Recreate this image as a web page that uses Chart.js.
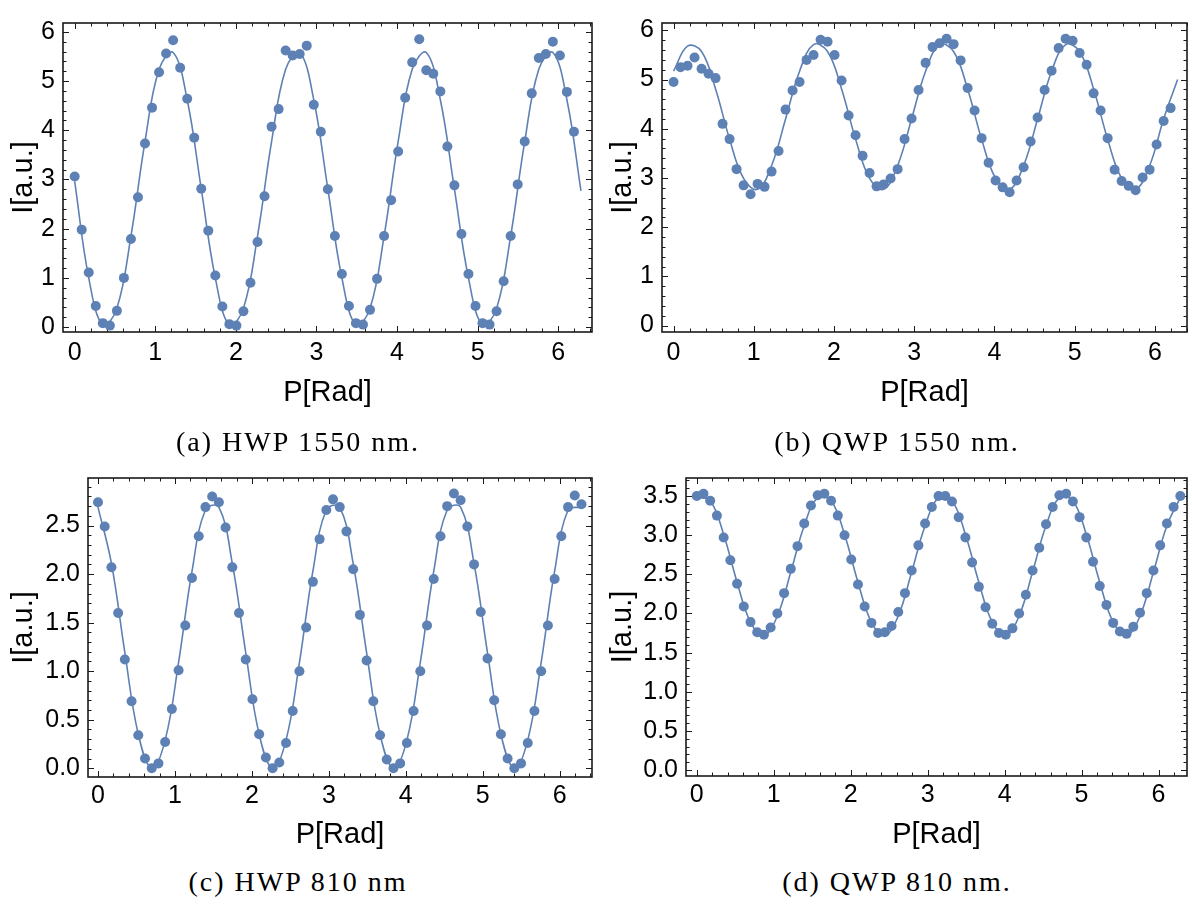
<!DOCTYPE html>
<html>
<head>
<meta charset="utf-8">
<script src="https://cdn.jsdelivr.net/npm/chart.js"></script>
<style>
  html, body { margin: 0; padding: 0; background: #fff; }
  body { width: 1192px; height: 907px; position: relative; overflow: hidden; }
  .panel { position: absolute; }
  .caption {
    position: absolute;
    font-family: "Liberation Serif", serif;
    font-size: 28px;
    line-height: 28px;
    letter-spacing: 2px;
    color: #000;
    transform: translateX(-50%);
    white-space: nowrap;
  }
</style>
</head>
<body>
<canvas class="panel" id="hwp1550" width="600" height="420" style="left:0;top:0"></canvas>
<canvas class="panel" id="qwp1550" width="592" height="420" style="left:600px;top:0"></canvas>
<canvas class="panel" id="hwp810" width="600" height="410" style="left:0;top:455px"></canvas>
<canvas class="panel" id="qwp810" width="592" height="410" style="left:600px;top:455px"></canvas>

<div class="caption" style="left:298px;top:428px">(a) HWP 1550 nm.</div>
<div class="caption" style="left:897px;top:428px">(b) QWP 1550 nm.</div>
<div class="caption" style="left:298px;top:868px">(c) HWP 810 nm</div>
<div class="caption" style="left:897px;top:868px">(d) QWP 810 nm.</div>

<script>
// polarizer angle of each measurement, degrees (5 degree steps)
const anglesDeg = [0,5,10,15,20,25,30,35,40,45,50,55,60,65,70,75,80,85,90,95,100,105,110,115,120,
  125,130,135,140,145,150,155,160,165,170,175,180,185,190,195,200,205,210,215,220,225,230,235,240,
  245,250,255,260,265,270,275,280,285,290,295,300,305,310,315,320,325,330,335,340,345,350,355,360];
const fitAnglesDeg = [0,10,20,30,40,50,60,70,80,90,100,110,120,130,140,150,160,170,180,
  190,200,210,220,230,240,250,260,270,280,290,300,310,320,330,340,350,360];

// measured intensities [a.u.]
const hwp1550 = [3.06,1.98,1.11,0.43,0.08,0.03,0.33,1.00,1.79,2.64,3.73,4.46,5.18,5.56,5.83,5.27,4.64,3.85,
  2.81,1.96,1.05,0.42,0.06,0.03,0.32,0.90,1.73,2.66,4.07,4.43,5.62,5.52,5.55,5.72,4.52,3.97,
  2.80,1.85,1.08,0.43,0.08,0.05,0.35,0.98,1.85,2.58,3.57,4.66,5.38,5.85,5.22,5.15,4.79,3.67,
  2.88,1.89,1.08,0.43,0.08,0.05,0.32,0.93,1.85,2.90,3.77,4.75,5.47,5.55,5.80,5.52,4.78,3.97];
const qwp1550 = [4.95,5.25,5.28,5.45,5.22,5.12,5.03,4.10,3.79,3.18,2.85,2.67,2.88,2.82,3.13,3.55,4.39,4.78,
  4.95,5.40,5.50,5.81,5.77,5.50,4.98,4.27,3.87,3.45,3.10,2.83,2.87,2.99,3.18,3.79,4.21,4.79,
  5.34,5.66,5.74,5.83,5.72,5.39,4.83,4.37,3.81,3.31,2.95,2.81,2.71,2.95,3.22,3.74,4.23,4.79,
  5.18,5.64,5.83,5.79,5.54,5.30,4.72,4.37,3.81,3.17,2.94,2.84,2.75,3.01,3.17,3.68,4.16,4.42];
const hwp810 = [2.74,2.49,2.07,1.60,1.12,0.69,0.34,0.10,0.00,0.05,0.27,0.61,1.01,1.47,1.96,2.39,2.69,2.80,
  2.74,2.48,2.07,1.60,1.12,0.71,0.35,0.11,0.00,0.06,0.26,0.59,1.00,1.45,1.92,2.36,2.66,2.77,
  2.69,2.44,2.05,1.58,1.11,0.69,0.34,0.09,0.00,0.05,0.26,0.59,1.00,1.47,1.95,2.39,2.70,2.83,
  2.76,2.49,2.10,1.61,1.13,0.70,0.35,0.10,0.00,0.05,0.26,0.59,1.00,1.47,1.95,2.39,2.69,2.81,2.72];
const qwp810 = [3.50,3.53,3.44,3.25,2.97,2.68,2.38,2.09,1.89,1.76,1.73,1.82,2.00,2.26,2.57,2.86,3.15,3.38,
  3.51,3.53,3.44,3.25,3.00,2.69,2.37,2.09,1.88,1.75,1.76,1.84,2.02,2.26,2.55,2.87,3.15,3.36,
  3.50,3.50,3.43,3.23,2.97,2.65,2.34,2.08,1.87,1.75,1.73,1.81,2.00,2.24,2.55,2.84,3.14,3.36,
  3.51,3.53,3.43,3.23,2.97,2.66,2.35,2.11,1.88,1.77,1.74,1.83,2.01,2.26,2.55,2.87,3.15,3.36,3.50];

// fitted curves
const fitHwp1550 = [2.96,1.00,0.04,0.38,1.85,3.77,5.24,5.58,4.62, 2.81,1.00,0.04,0.38,1.85,3.77,5.24,5.58,4.62,
  2.81,1.00,0.04,0.38,1.85,3.77,5.24,5.58,4.62, 2.81,1.00,0.04,0.38,1.85,3.77,5.24,5.58,4.62, 2.77];
const fitQwp1550 = [5.17,5.68,5.57,4.81,3.79,2.99,2.77,3.25,4.20, 5.17,5.71,5.57,4.81,3.79,2.99,2.77,3.25,4.20,
  5.17,5.71,5.57,4.81,3.79,2.99,2.77,3.25,4.20, 5.17,5.71,5.57,4.81,3.79,2.99,2.77,3.25,4.20, 5.00];
const fitHwp810 = [2.69,2.11,1.19,0.35,0.00,0.29,1.09,2.03,2.66, 2.69,2.11,1.19,0.35,0.00,0.29,1.09,2.03,2.66,
  2.69,2.11,1.19,0.35,0.00,0.29,1.09,2.03,2.66, 2.69,2.11,1.19,0.35,0.00,0.29,1.09,2.03,2.66, 2.69];
const fitQwp810 = [3.48,3.44,3.01,2.40,1.89,1.72,1.97,2.53,3.12, 3.48,3.44,3.01,2.40,1.89,1.72,1.97,2.53,3.12,
  3.48,3.44,3.01,2.40,1.89,1.72,1.97,2.53,3.12, 3.48,3.44,3.01,2.40,1.89,1.72,1.97,2.53,3.12, 3.48];

const xTicks = [0,1,2,3,4,5,6];

const BLUE = '#5e81b5';
const FRAME = '#1a1a1a';
const toRad = d => d * Math.PI / 180;

// frame with inward ticks on all four sides (Mathematica style)
const frameTicks = {
  id: 'frameTicks',
  beforeDatasetsDraw(chart, args, opts) {
    const {ctx, chartArea: a, scales: {x, y}} = chart;
    ctx.save();
    ctx.strokeStyle = FRAME;
    ctx.lineWidth = 1;
    ctx.beginPath();
    const eps = 1e-6;
    for (let v = Math.ceil(x.min / 0.2) * 0.2; v <= x.max + eps; v += 0.2) {
      const major = Math.abs(v - Math.round(v)) < eps;
      const len = major ? 6 : 3.5;
      const px = Math.round(x.getPixelForValue(v)) + 0.5;
      ctx.moveTo(px, a.bottom); ctx.lineTo(px, a.bottom - len);
      ctx.moveTo(px, a.top); ctx.lineTo(px, a.top + len);
    }
    const st = opts.yMinor, mj = opts.yMajor;
    for (let v = Math.ceil(y.min / st) * st; v <= y.max + eps; v += st) {
      const major = Math.abs(v / mj - Math.round(v / mj)) < 1e-4;
      const len = major ? 6 : 3.5;
      const py = Math.round(y.getPixelForValue(v)) + 0.5;
      ctx.moveTo(a.left, py); ctx.lineTo(a.left + len, py);
      ctx.moveTo(a.right, py); ctx.lineTo(a.right - len, py);
    }
    ctx.stroke();
    ctx.lineWidth = 1.6;
    ctx.strokeRect(a.left, a.top, a.right - a.left, a.bottom - a.top);
    ctx.restore();
  }
};

function makePanel(id, values, fitValues, p) {
  const pts = values.map((v, i) => ({x: toRad(anglesDeg[i]), y: v}));
  const fit = fitValues.map((v, i) => ({x: toRad(fitAnglesDeg[i]), y: v}));
  const canvas = document.getElementById(id);
  const tickFont = {family: 'Liberation Sans, Arial, sans-serif', size: 25};
  const titleFont = {family: 'Liberation Sans, Arial, sans-serif', size: 29};

  new Chart(canvas.getContext('2d'), {
    type: 'scatter',
    data: {
      datasets: [
        {
          data: fit,
          showLine: true,
          borderColor: BLUE,
          borderWidth: 1.6,
          pointRadius: 0,
          tension: 0.4,
          fill: false,
          order: 2
        },
        {
          data: pts,
          backgroundColor: BLUE,
          borderWidth: 0,
          pointRadius: 5,
          order: 1
        }
      ]
    },
    options: {
      responsive: false,
      animation: false,
      layout: {padding: {left: 0, top: p.top, right: canvas.width - p.right, bottom: 0}},
      plugins: {
        legend: {display: false},
        tooltip: {enabled: false},
        frameTicks: {yMajor: p.yMajor, yMinor: p.yMinor}
      },
      scales: {
        x: {
          type: 'linear',
          min: p.xMin, max: p.xMax,
          grid: {display: false, drawTicks: false},
          border: {display: false},
          afterBuildTicks: s => { s.ticks = xTicks.map(v => ({value: v})); },
          afterFit: s => { s.height = canvas.height - p.bottom; },
          ticks: {font: tickFont, color: '#000', padding: p.xPad, maxRotation: 0},
          title: {display: true, text: 'P[Rad]', font: titleFont, color: '#000', padding: {bottom: p.titleBottom}}
        },
        y: {
          type: 'linear',
          min: p.yMin, max: p.yMax,
          grid: {display: false, drawTicks: false},
          border: {display: false},
          afterBuildTicks: s => { s.ticks = p.yTicks.map(v => ({value: v})); },
          afterFit: s => { s.width = p.left; },
          ticks: {
            font: tickFont, color: '#000', padding: 8,
            callback: v => v.toFixed(p.dec)
          },
          title: {display: true, text: 'I[a.u.]', font: titleFont, color: '#000', padding: {top: p.titleLeft}}
        }
      }
    },
    plugins: [frameTicks]
  });
}

makePanel('hwp1550', hwp1550, fitHwp1550, {
  left: 63, top: 7, right: 592, bottom: 332,
  xMin: -0.145, xMax: 6.42, yMin: -0.1, yMax: 6.18,
  yTicks: [0,1,2,3,4,5,6], yMajor: 1, yMinor: 0.2, dec: 0,
  xPad: 6, titleBottom: 10, titleLeft: 7
});
makePanel('qwp1550', qwp1550, fitQwp1550, {
  left: 62, top: 7, right: 588, bottom: 332,
  xMin: -0.144, xMax: 6.40, yMin: -0.13, yMax: 6.15,
  yTicks: [0,1,2,3,4,5,6], yMajor: 1, yMinor: 0.2, dec: 0,
  xPad: 6, titleBottom: 10, titleLeft: 6
});
makePanel('hwp810', hwp810, fitHwp810, {
  left: 88, top: 11, right: 592, bottom: 322,
  xMin: -0.13, xMax: 6.42, yMin: -0.09, yMax: 2.99,
  yTicks: [0,0.5,1,1.5,2,2.5], yMajor: 0.5, yMinor: 0.1, dec: 1,
  xPad: 4, titleBottom: 13, titleLeft: 7
});
makePanel('qwp810', qwp810, fitQwp810, {
  left: 86, top: 11, right: 588, bottom: 321,
  xMin: -0.14, xMax: 6.37, yMin: -0.075, yMax: 3.73,
  yTicks: [0,0.5,1,1.5,2,2.5,3,3.5], yMajor: 0.5, yMinor: 0.1, dec: 1,
  xPad: 4, titleBottom: 13, titleLeft: 6
});
</script>
</body>
</html>
